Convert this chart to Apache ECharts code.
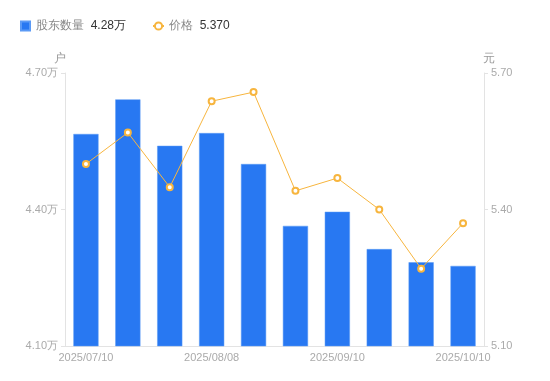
<!DOCTYPE html>
<html><head><meta charset="utf-8">
<script src="https://cdn.jsdelivr.net/npm/echarts@6/dist/echarts.min.js"></script>
<style>html,body{margin:0;padding:0;background:#fff}#c{width:550px;height:381px}</style>
</head><body><div id="c"></div>
<script>
var categories = ['2025/07/10','2025/07/20','2025/07/31','2025/08/08','2025/08/20','2025/08/31','2025/09/10','2025/09/19','2025/09/30','2025/10/10'];
var holders = [4.566, 4.642, 4.540, 4.568, 4.500, 4.364, 4.395, 4.313, 4.284, 4.276];
var prices = [5.500, 5.569, 5.449, 5.638, 5.658, 5.441, 5.469, 5.400, 5.270, 5.370];
var leftTicks = {min: 4.10, max: 4.70, interval: 0.30};
var rightTicks = {min: 5.10, max: 5.70, interval: 0.30};
var legendValues = {'股东数量': '4.28万', '价格': '5.370'};

var chart = echarts.init(document.getElementById('c'));
chart.setOption({
  animation: false,
  legend: {
    left: 15, top: 15, itemWidth: 11, itemHeight: 9, itemGap: 26,
    symbolKeepAspect: true,
    data: [{name: '股东数量', icon: 'path://M0,0H10V10H0Z'}, {name: '价格'}],
    formatter: function (n) { return '{a|' + n + '}  {b|' + legendValues[n] + '}'; },
    textStyle: {rich: {a: {color: '#888', fontSize: 12}, b: {color: '#333', fontSize: 12}}}
  },
  grid: {left: 65, right: 66, top: 73, bottom: 35},
  xAxis: {
    type: 'category', data: categories,
    axisLine: {lineStyle: {color: '#e3e3e3'}},
    axisTick: {show: false},
    axisLabel: {interval: 2, color: '#aaa', fontSize: 11, margin: 6}
  },
  yAxis: [{
    type: 'value', name: '户', min: leftTicks.min, max: leftTicks.max, interval: leftTicks.interval,
    nameTextStyle: {color: '#999', fontSize: 12, padding: [0, 10, 0, 0]}, nameGap: 8,
    axisLine: {show: true, lineStyle: {color: '#e3e3e3'}},
    axisTick: {show: true, length: 4, lineStyle: {color: '#e3e3e3'}},
    axisLabel: {color: '#aaa', fontSize: 11, margin: 7, formatter: function (v) { return v.toFixed(2) + '万'; }},
    splitLine: {show: false}
  }, {
    type: 'value', name: '元', min: rightTicks.min, max: rightTicks.max, interval: rightTicks.interval,
    nameTextStyle: {color: '#999', fontSize: 12, padding: [0, 0, 0, 10]}, nameGap: 8,
    axisLine: {show: true, lineStyle: {color: '#e3e3e3'}},
    axisTick: {show: true, length: 4, lineStyle: {color: '#e3e3e3'}},
    axisLabel: {color: '#aaa', fontSize: 11, margin: 7, formatter: function (v) { return v.toFixed(2); }},
    splitLine: {show: false}
  }],
  series: [{
    name: '股东数量', type: 'bar', data: holders, barWidth: '60%', yAxisIndex: 0,
    itemStyle: {color: '#2878f2', borderColor: '#5b9af5', borderWidth: 0.5}
  }, {
    name: '价格', type: 'line', data: prices, yAxisIndex: 1,
    symbol: 'emptyCircle', symbolSize: 6,
    lineStyle: {color: '#f7b53e', width: 1},
    itemStyle: {color: '#f7b53e', borderWidth: 2}
  }]
});
</script></body></html>
